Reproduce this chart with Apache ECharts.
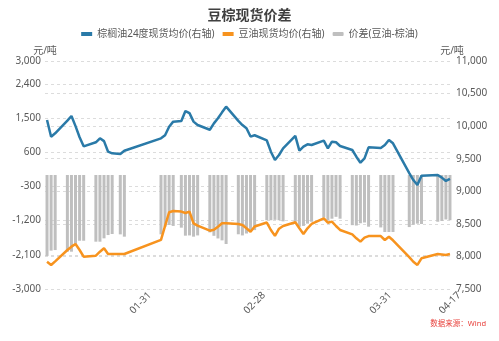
<!DOCTYPE html>
<html>
<head>
<meta charset="utf-8">
<script src="https://cdn.jsdelivr.net/npm/echarts@6/dist/echarts.min.js"></script>
<style>
  html, body { margin: 0; padding: 0; background: #ffffff; }
  #chart { width: 499px; height: 341px; }
</style>
</head>
<body>
<div id="chart"></div>
<script>
// Observation dates (2025, MM-DD); weekends/holidays have no quote
const tradeDates = [
  '01-08','01-09','01-10','01-13','01-14','01-15','01-16','01-17','01-20','01-21','01-22','01-23','01-24','01-26','01-27',
  '02-05','02-06','02-07','02-08','02-10','02-11','02-12','02-13','02-14','02-17','02-18','02-19','02-20','02-21',
  '02-24','02-25','02-26','02-27','02-28',
  '03-03','03-04','03-05','03-06','03-07','03-10','03-11','03-12','03-13','03-14','03-17','03-18','03-19','03-20','03-21',
  '03-24','03-25','03-26','03-27','03-28','03-31',
  '04-01','04-02','04-03','04-07','04-08','04-09','04-10','04-14','04-15','04-16','04-17'
];

// 棕榈油24度现货均价 (右轴)
const palmPrice = [
  10094, 9838, 9890, 10084, 10156, 10000, 9830, 9690, 9752, 9813, 9770, 9608, 9583, 9572, 9623,
  9813, 9860, 9992, 10069, 10079, 10232, 10200, 10069, 10018, 9945, 10043, 10120, 10212, 10299,
  10080, 10017, 9967, 9840, 9860,
  9780, 9608, 9480, 9557, 9660, 9850, 9623, 9685, 9721, 9710, 9777, 9660, 9762, 9752, 9695,
  9634, 9531, 9439, 9506, 9675, 9664,
  9710, 9787, 9737, 9280, 9173, 9097, 9240, 9250, 9210, 9158, 9189
];

// 豆油现货均价 (右轴)
const soyPrice = [
  7919, 7869, 7925, 8099, 8150, 8191, 8099, 7996, 8012, 8073, 8125, 8037, 8037, 8037, 8037,
  8253, 8470, 8678, 8698, 8688, 8667, 8688, 8508, 8472, 8395, 8410, 8457, 8508, 8508,
  8498, 8483, 8432, 8380, 8460,
  8520, 8406, 8316, 8425, 8467, 8524, 8432, 8344, 8432, 8498, 8585, 8518, 8534, 8467, 8406,
  8339, 8278, 8227, 8288, 8313, 8313,
  8252, 8303, 8248, 7990, 7919, 7869, 7971, 8037, 8030, 8022, 8037
];

// 价差 (豆油-棕油), 左轴
const spread = [
  -2130, -1990, -1975, -2020, -2018, -1808, -1730, -1730, -1755, -1755, -1667, -1580, -1553, -1562, -1623,
  -1562, -1360, -1316, -1340, -1386, -1597, -1590, -1623, -1590, -1510, -1600, -1670, -1720, -1816,
  -1560, -1590, -1540, -1480, -1450,
  -1190, -1190, -1180, -1190, -1220, -1230, -1360, -1340, -1280, -1230, -1120, -1190, -1150, -1100, -1150,
  -1320, -1330, -1270, -1250, -1360, -1380,
  -1500, -1500, -1500, -1370, -1310, -1280, -1290, -1230, -1210, -1170, -1190
];

// Dates shown on the category axis
const tickLabels = ['01-31', '02-28', '03-31', '04-17'];

const YEAR = 2025;

// Every calendar day between the first and last observation
function calendarDays(first, last) {
  const toDate = s => new Date(Date.UTC(YEAR, +s.slice(0, 2) - 1, +s.slice(3, 5)));
  const out = [];
  for (let d = toDate(first); d <= toDate(last); d = new Date(d.getTime() + 86400000)) {
    const mm = String(d.getUTCMonth() + 1).padStart(2, '0');
    const dd = String(d.getUTCDate()).padStart(2, '0');
    out.push(mm + '-' + dd);
  }
  return out;
}

const days = calendarDays(tradeDates[0], tradeDates[tradeDates.length - 1]);

// Spread each series over the calendar days, leaving gaps as null
function onCalendar(values) {
  const byDate = {};
  tradeDates.forEach((d, i) => { byDate[d] = values[i]; });
  return days.map(d => (d in byDate ? byDate[d] : null));
}

const FONT = '"Noto Sans", "Noto Sans CJK SC", sans-serif';
const TEXT = '#595959';
const fmt = v => Number(v).toLocaleString('en-US');

const chart = echarts.init(document.getElementById('chart'), null, { renderer: 'canvas' });

const gridLine = { show: true, lineStyle: { type: [3, 3], color: '#dcdcdc', width: 1 } };

chart.setOption({
  animation: false,
  backgroundColor: '#ffffff',
  textStyle: { fontFamily: FONT },
  title: {
    text: '豆棕现货价差',
    left: 'center',
    top: 4,
    textStyle: { fontSize: 14, fontWeight: 'bold', color: '#404040', fontFamily: FONT }
  },
  legend: {
    top: 24,
    left: 'center',
    itemWidth: 11,
    itemHeight: 4,
    itemGap: 8,
    textStyle: { fontSize: 10, color: TEXT, fontFamily: FONT },
    data: [
      { name: '棕榈油24度现货均价(右轴)', icon: 'rect' },
      { name: '豆油现货均价(右轴)', icon: 'rect' },
      { name: '价差(豆油-棕油)', icon: 'roundRect' }
    ]
  },
  grid: { left: 45, right: 47, top: 61, bottom: 52, containLabel: false },
  xAxis: {
    type: 'category',
    data: days,
    boundaryGap: true,
    axisLine: { show: false },
    axisTick: { show: false },
    splitLine: { show: false },
    axisLabel: {
      interval: (idx, val) => tickLabels.includes(val),
      rotate: 45,
      align: 'center',
      verticalAlign: 'middle',
      fontSize: 10,
      color: TEXT,
      margin: 14,
      fontFamily: FONT
    }
  },
  yAxis: [
    {
      type: 'value',
      position: 'left',
      min: -3000,
      max: 3000,
      interval: 900,
      name: '元/吨',
      nameLocation: 'end',
      nameGap: 5,
      nameTextStyle: { fontSize: 10, color: TEXT, fontFamily: FONT },
      axisLine: { show: false },
      axisTick: { show: false },
      splitLine: gridLine,
      axisLabel: { formatter: fmt, fontSize: 10, color: TEXT, margin: 4, fontFamily: FONT }
    },
    {
      type: 'value',
      position: 'right',
      min: 7500,
      max: 11000,
      interval: 500,
      name: '元/吨',
      nameLocation: 'end',
      nameGap: 5,
      nameTextStyle: { fontSize: 10, color: TEXT, fontFamily: FONT },
      axisLine: { show: false },
      axisTick: { show: false },
      splitLine: gridLine,
      axisLabel: { formatter: fmt, fontSize: 10, color: TEXT, margin: 4, fontFamily: FONT }
    }
  ],
  series: [
    {
      name: '棕榈油24度现货均价(右轴)',
      type: 'line',
      yAxisIndex: 1,
      data: onCalendar(palmPrice),
      connectNulls: true,
      showSymbol: false,
      symbol: 'none',
      z: 4,
      itemStyle: { color: '#2a7aa8' },
      lineStyle: { color: '#2a7aa8', width: 2.5 }
    },
    {
      name: '豆油现货均价(右轴)',
      type: 'line',
      yAxisIndex: 1,
      data: onCalendar(soyPrice),
      connectNulls: true,
      showSymbol: false,
      symbol: 'none',
      z: 4,
      itemStyle: { color: '#f7931e' },
      lineStyle: { color: '#f7931e', width: 2.5 }
    },
    {
      name: '价差(豆油-棕油)',
      type: 'bar',
      yAxisIndex: 0,
      data: onCalendar(spread),
      barWidth: 3,
      z: 2,
      itemStyle: { color: '#bfbfbf' }
    }
  ],
  graphic: [
    {
      type: 'text',
      right: 13,
      top: 320,
      style: { text: '数据来源：Wind', fontSize: 7.5, fill: '#e8413c', fontFamily: FONT }
    }
  ]
});
</script>
</body>
</html>
